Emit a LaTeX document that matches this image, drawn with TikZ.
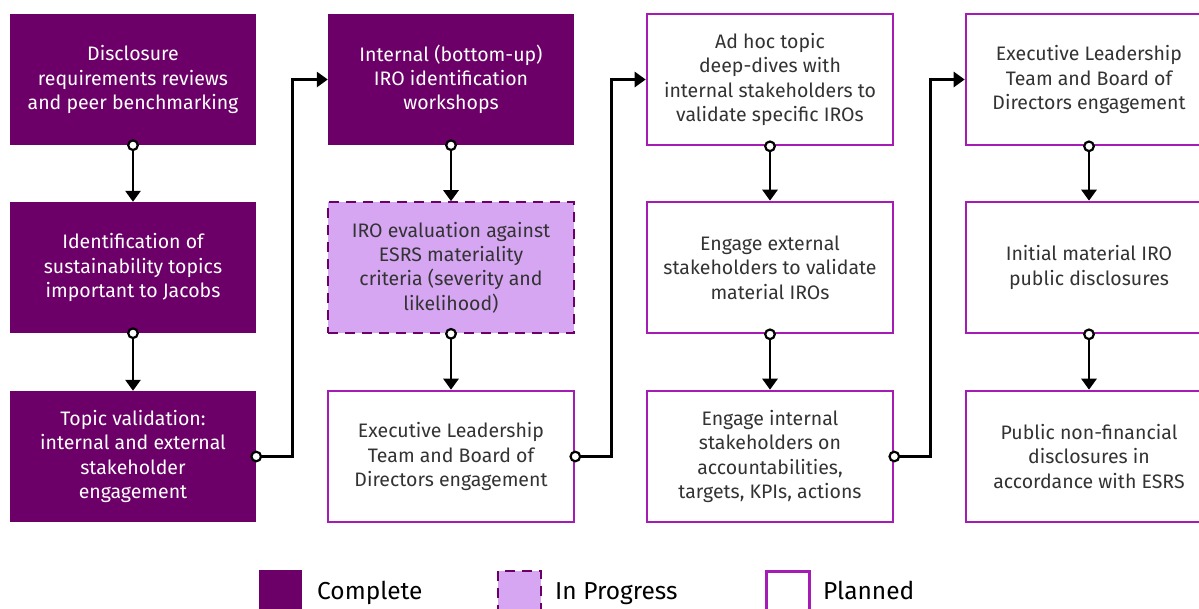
\documentclass[tikz,border=0pt]{standalone}
\usepackage{fontspec}
\setmainfont{Fira Sans}
\usetikzlibrary{arrows.meta}
\definecolor{cdone}{HTML}{6C0068}
\definecolor{cprog}{HTML}{D6A6F2}
\definecolor{cplan}{HTML}{A51CB5}
\definecolor{ctext}{HTML}{333333}
\tikzset{
  box/.style={rectangle, minimum width=246pt, minimum height=131pt, inner sep=0pt,
    align=center, font=\fontsize{19.5}{24.3}\selectfont},
  done/.style={box, fill=cdone, text=white},
  prog/.style={box, fill=cprog, draw=cdone, line width=1.6pt, dash pattern=on 10pt off 7pt, text=ctext},
  plan/.style={box, fill=white, draw=cplan, line width=2.6pt, text=ctext},
  conn/.style={draw=black, line width=2.8pt, -{Triangle[length=11pt,width=15pt]}},
  dot/.style={draw=black, fill=white, line width=2.2pt},
  legbox/.style={rectangle, minimum width=43pt, minimum height=50pt, inner sep=0pt, anchor=north west},
  legtext/.style={anchor=base west, inner sep=0pt, text=black, font=\fontsize{24.5}{28}\selectfont},
}
\begin{document}
\begin{tikzpicture}[x=1pt,y=-1pt]
\clip (0,0) rectangle (1199,608);
\fill[white] (0,0) rectangle (1199,608);
% column 1
\node[done] (a1) at (133,79.5) {Disclosure\\requirements reviews\\and peer benchmarking};
\node[done] (a2) at (133,267.5) {Identification of\\sustainability topics\\important to Jacobs};
\node[done] (a3) at (133,456.5) {Topic validation:\\internal and external\\stakeholder\\engagement};
% column 2
\node[done] (b1) at (451,79.5) {Internal (bottom-up)\\IRO identification\\workshops};
\node[prog] (b2) at (451,267.5) {IRO evaluation against\\ESRS materiality\\criteria (severity and\\likelihood)};
\node[plan] (b3) at (451,456.5) {Executive Leadership\\Team and Board of\\Directors engagement};
% column 3
\node[plan] (c1) at (770,79.5) {Ad hoc topic\\deep-dives with\\internal stakeholders to\\validate specific IROs};
\node[plan] (c2) at (770,267.5) {Engage external\\stakeholders to validate\\material IROs};
\node[plan] (c3) at (770,456.5) {Engage internal\\stakeholders on\\accountabilities,\\targets, KPIs, actions};
% column 4
\node[plan] (d1) at (1089,79.5) {Executive Leadership\\Team and Board of\\Directors engagement};
\node[plan] (d2) at (1089,267.5) {Initial material IRO\\public disclosures};
\node[plan] (d3) at (1089,456.5) {Public non-financial\\disclosures in\\accordance with ESRS};
% vertical connectors
\foreach \u/\v in {a1/a2,a2/a3,b1/b2,b2/b3,c1/c2,c2/c3,d1/d2,d2/d3}{
  \draw[conn] (\u.south) -- (\v.north);
  \draw[dot] (\u.south) circle (4.8pt);
}
% column-to-column connectors
\foreach \u/\v in {a3/b1,b3/c1,c3/d1}{
  \draw[conn] (\u.east) -- ++(36,0) |- (\v.west);
  \draw[dot] (\u.east) circle (4.8pt);
}
% legend
\node[legbox, fill=cdone] (l1) at (259,570) {};
\node[legtext] (t1) at (317,599) {Complete};
\node[legbox, fill=cprog, draw=cdone, line width=1.6pt, dash pattern=on 10pt off 7pt] (l2) at (497,570) {};
\node[legtext] (t2) at (555,599) {In Progress};
\node[legbox, fill=white, draw=cplan, line width=2.6pt] (l3) at (765,570) {};
\node[legtext] (t3) at (823,599) {Planned};
\end{tikzpicture}
\end{document}
